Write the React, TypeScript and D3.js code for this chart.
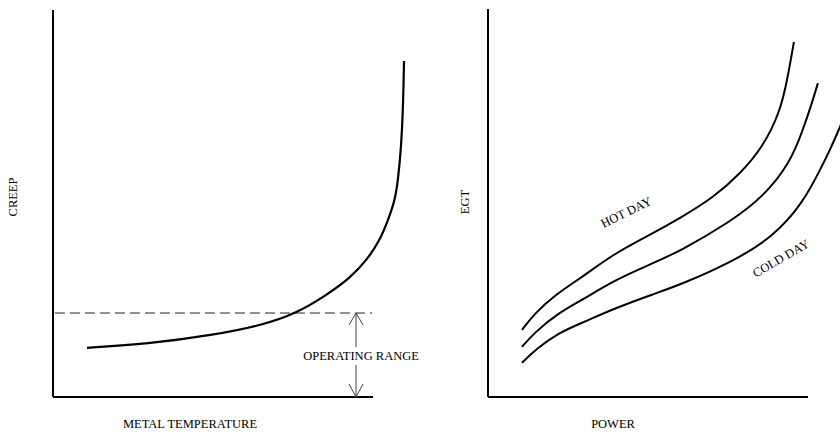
import React from "react";
import * as d3 from "d3";

// Left panel: creep vs metal temperature
const creepTemp = [10.6, 29.4, 50, 65.6, 76.25, 85.6, 92.8, 98.1, 102.2, 104.7, 106.9, 107.8, 108.75, 109.4, 109.7];
const creepVal = [12.7, 13.7, 16.0, 18.6, 21.7, 26.4, 30.7, 35.4, 40.6, 45.7, 50.9, 56.1, 63.8, 74.9, 86.8];
const operatingLimit = 21.7;
const operatingX = 94.7;

// Right panel: EGT vs power
const hotPower = [10.6, 14.7, 20.9, 29.4, 39.7, 50.6, 60, 70.3, 78.75, 85.9, 91.25, 93.4, 95.6];
const hotEgt = [17.3, 21.6, 26.3, 30.9, 37.1, 41.8, 46.1, 51.3, 57.5, 64.4, 73.5, 81.2, 91.5];
const midPower = [10.6, 14.7, 21.9, 29.4, 39.7, 51.6, 60, 75.6, 85.9, 94.4, 98.4, 101.25, 103.1];
const midEgt = [12.9, 16.75, 21.6, 25.0, 30.2, 34.5, 37.6, 45.1, 51.5, 60.3, 68.8, 75.8, 80.9];
const coldPower = [10.6, 14.7, 21.9, 29.4, 39.7, 51.6, 60, 75.6, 89.1, 98.4, 103.75, 106.9, 110, 111.6];
const coldEgt = [8.8, 12.1, 16.5, 19.1, 22.9, 26.5, 28.9, 34.5, 41.2, 50.0, 58.5, 63.7, 69.6, 72.7];

const FONT = "'Liberation Serif', 'DejaVu Serif', serif";

export default function App() {
  const lx = d3.scaleLinear().domain([0, 100]).range([53, 373]);
  const ly = d3.scaleLinear().domain([0, 100]).range([397, 10]);
  const rx = d3.scaleLinear().domain([0, 100]).range([488, 808]);
  const ry = d3.scaleLinear().domain([0, 100]).range([397, 9]);

  const leftLine = d3
    .line<number>()
    .x((d) => lx(d))
    .y((_, i) => ly(creepVal[i]))
    .curve(d3.curveBasis);

  const mkRight = (ys: number[]) =>
    d3
      .line<number>()
      .x((d) => rx(d))
      .y((_, i) => ry(ys[i]))
      .curve(d3.curveBasis);

  const ax = lx(operatingX);
  const ayTop = ly(operatingLimit);
  const ayBot = ly(0);
  const fs = 12.5;

  return (
    <svg
      width={840}
      height={432}
      style={{ position: "absolute", left: 0, top: 0, background: "#fff" }}
      fontFamily={FONT}
    >
      <rect x={0} y={0} width={840} height={432} fill="#fff" />
      {/* Left axes */}
      <line x1={lx(0)} x2={lx(0)} y1={ly(100)} y2={ly(0)} stroke="#000" strokeWidth={2} />
      <line x1={lx(0)} x2={lx(100)} y1={ly(0)} y2={ly(0)} stroke="#000" strokeWidth={2.2} />
      {/* dashed operating limit */}
      <line
        x1={lx(0.6)}
        x2={lx(99.7)}
        y1={ayTop}
        y2={ayTop}
        stroke="#222"
        strokeWidth={1}
        strokeDasharray="10,5"
      />
      {/* creep curve */}
      <path d={leftLine(creepTemp) || ""} fill="none" stroke="#000" strokeWidth={2.2} />
      {/* operating range arrow */}
      <line x1={ax} x2={ax} y1={ayTop} y2={ayTop + 34} stroke="#444" strokeWidth={1} />
      <line x1={ax} x2={ax} y1={ayBot - 32} y2={ayBot} stroke="#444" strokeWidth={1} />
      <polyline
        points={`${ax - 7},${ayTop + 12} ${ax},${ayTop} ${ax + 7},${ayTop + 12}`}
        fill="none"
        stroke="#444"
        strokeWidth={1}
      />
      <polyline
        points={`${ax - 7},${ayBot - 13} ${ax},${ayBot} ${ax + 7},${ayBot - 13}`}
        fill="none"
        stroke="#444"
        strokeWidth={1}
      />
      <text x={ax + 5} y={360} fontSize={fs} textAnchor="middle" fill="#000">
        OPERATING RANGE
      </text>
      <text x={190} y={428} fontSize={fs} textAnchor="middle" fill="#000">
        METAL TEMPERATURE
      </text>
      <text
        transform={`translate(17,197) rotate(-90)`}
        fontSize={fs}
        textAnchor="middle"
        fill="#000"
      >
        CREEP
      </text>

      {/* Right axes */}
      <line x1={rx(0)} x2={rx(0)} y1={ry(100)} y2={ry(0)} stroke="#000" strokeWidth={2} />
      <line x1={rx(0)} x2={rx(100)} y1={ry(0)} y2={ry(0)} stroke="#000" strokeWidth={2.2} />
      <path d={mkRight(hotEgt)(hotPower) || ""} fill="none" stroke="#000" strokeWidth={2} />
      <path d={mkRight(midEgt)(midPower) || ""} fill="none" stroke="#000" strokeWidth={2} />
      <path d={mkRight(coldEgt)(coldPower) || ""} fill="none" stroke="#000" strokeWidth={2} />
      <text
        transform={`translate(628,216) rotate(-26)`}
        fontSize={fs}
        textAnchor="middle"
        fill="#000"
      >
        HOT DAY
      </text>
      <text
        transform={`translate(783,262) rotate(-30)`}
        fontSize={fs}
        textAnchor="middle"
        fill="#000"
      >
        COLD DAY
      </text>
      <text x={613} y={428} fontSize={fs} textAnchor="middle" fill="#000">
        POWER
      </text>
      <text
        transform={`translate(469,202) rotate(-90)`}
        fontSize={fs}
        textAnchor="middle"
        fill="#000"
      >
        EGT
      </text>
    </svg>
  );
}
